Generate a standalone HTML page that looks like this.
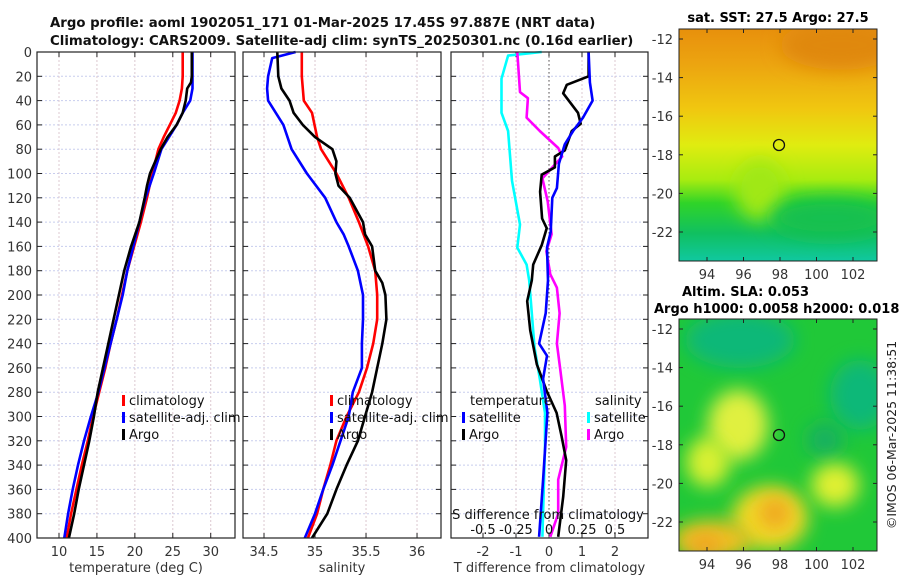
<!DOCTYPE html>
<html><head><meta charset="utf-8"><style>
body{margin:0;background:#fff;width:900px;height:580px;overflow:hidden}
svg{font-family:"DejaVu Sans","Liberation Sans",sans-serif}
</style></head><body>
<svg id="chart" width="900" height="580" xmlns="http://www.w3.org/2000/svg">
<defs>
<filter id="bl" x="-50%" y="-50%" width="200%" height="200%"><feGaussianBlur stdDeviation="9"/></filter>
<linearGradient id="sstg" x1="0" y1="0" x2="0" y2="1">
<stop offset="0" stop-color="#e8900c"/><stop offset="0.15" stop-color="#eca410"/><stop offset="0.35" stop-color="#f0c810"/>
<stop offset="0.5" stop-color="#e0ec10"/><stop offset="0.65" stop-color="#a8ec10"/><stop offset="0.75" stop-color="#30d428"/>
<stop offset="0.88" stop-color="#10c060"/><stop offset="1" stop-color="#10c8a0"/></linearGradient>
<clipPath id="c1"><rect x="679" y="29" width="198" height="232"/></clipPath>
<clipPath id="c2"><rect x="679" y="319" width="198" height="232"/></clipPath>
</defs>
<g font-weight="bold" font-size="13.3" fill="#111">
<text x="50" y="27">Argo profile: aoml 1902051_171 01-Mar-2025 17.45S 97.887E (NRT data)</text>
<text x="50" y="45">Climatology: CARS2009. Satellite-adj clim: synTS_20250301.nc (0.16d earlier)</text>
</g>
<g id="panels"></g>
<g>
<g clip-path="url(#c1)">
<rect x="679" y="29" width="198" height="232" fill="url(#sstg)"/>
<ellipse cx="760" cy="190" rx="25" ry="30" fill="#a0e818" filter="url(#bl)"/>
<ellipse cx="840" cy="45" rx="60" ry="25" fill="#e08808" filter="url(#bl)"/>
<ellipse cx="830" cy="218" rx="60" ry="20" fill="#18c050" filter="url(#bl)"/>
</g>
<rect x="679" y="29" width="198" height="232" fill="none" stroke="#222"/>
<circle cx="779" cy="145" r="5.5" fill="none" stroke="#111" stroke-width="1.3"/>
<text x="778" y="22" text-anchor="middle" font-weight="bold" font-size="13">sat. SST: 27.5 Argo: 27.5</text>
</g>
<g>
<g clip-path="url(#c2)">
<rect x="679" y="319" width="198" height="232" fill="#20c838"/>
<ellipse cx="740" cy="340" rx="55" ry="28" fill="#10b878" filter="url(#bl)"/>
<ellipse cx="860" cy="395" rx="30" ry="35" fill="#10b878" filter="url(#bl)"/>
<ellipse cx="825" cy="440" rx="18" ry="18" fill="#18b060" filter="url(#bl)"/>
<ellipse cx="738" cy="425" rx="30" ry="35" fill="#e0f040" filter="url(#bl)"/>
<ellipse cx="708" cy="462" rx="22" ry="25" fill="#d8f030" filter="url(#bl)"/>
<ellipse cx="835" cy="485" rx="24" ry="22" fill="#e0f030" filter="url(#bl)"/>
<ellipse cx="770" cy="518" rx="38" ry="32" fill="#f0d828" filter="url(#bl)"/>
<ellipse cx="775" cy="513" rx="16" ry="16" fill="#f0a820" filter="url(#bl)"/>
<ellipse cx="712" cy="540" rx="40" ry="20" fill="#f0c020" filter="url(#bl)"/>
<ellipse cx="705" cy="545" rx="16" ry="10" fill="#f0a020" filter="url(#bl)"/>
</g>
<rect x="679" y="319" width="198" height="232" fill="none" stroke="#222"/>
<circle cx="779" cy="435" r="5.5" fill="none" stroke="#111" stroke-width="1.3"/>
<text x="682" y="296" font-weight="bold" font-size="13">Altim. SLA: 0.053</text>
<text x="654" y="313" font-weight="bold" font-size="13">Argo h1000: 0.0058 h2000: 0.018</text>
</g>
<text transform="translate(896,435) rotate(-90)" text-anchor="middle" font-size="12.5" fill="#222">©IMOS 06-Mar-2025 11:38:51</text>
<g id="maps-axes"></g>
</svg>
<script>
// depth-level arrays
const depthT = [0,20,30,40,50,60,70,80,100,120,140,160,180,200,220,240,260,280,300,320,340,360,380,400];
const tempClim = [26.3,26.3,26.2,25.9,25.4,24.6,23.8,23.1,22.3,21.6,20.8,19.9,19.0,18.3,17.6,16.8,16.1,15.3,14.5,13.8,13.0,12.3,11.6,11.0];
const tempSat = [27.6,27.6,27.6,27.3,26.3,25.5,24.5,23.5,22.5,21.4,20.6,19.8,19.0,18.4,17.6,16.8,16.0,15.2,14.2,13.3,12.5,11.8,11.2,10.7];
const depthArgo = [0,20,25,30,40,50,60,70,80,90,100,110,120,140,160,180,200,220,240,260,280,300,320,340,360,380,400];
const tempArgo = [27.5,27.5,27.4,26.9,26.7,26.3,25.5,24.3,23.4,22.7,22.0,21.6,21.3,20.6,19.5,18.6,17.9,17.2,16.5,15.8,15.1,14.6,14.0,13.3,12.6,12.0,11.3];
const depthS = [0,20,40,50,70,80,100,120,140,160,180,200,220,240,260,280,300,320,340,360,380,400];
const salClim = [34.87,34.87,34.89,34.97,35.02,35.06,35.21,35.33,35.43,35.52,35.59,35.61,35.61,35.57,35.51,35.43,35.31,35.21,35.15,35.08,35.02,34.93];
const depthSsat = [0,5,20,30,40,60,80,100,120,140,150,160,180,200,220,240,260,280,300,320,340,360,380,400];
const salSat = [34.81,34.58,34.54,34.53,34.54,34.69,34.77,34.92,35.10,35.21,35.28,35.33,35.42,35.47,35.47,35.46,35.46,35.37,35.33,35.25,35.17,35.08,35.00,34.90];
const depthSargo = [0,20,30,40,50,60,70,80,90,100,110,120,140,150,160,180,190,200,220,240,260,280,300,320,340,360,380,400];
const salArgo = [34.63,34.64,34.67,34.75,34.79,34.88,35.00,35.17,35.21,35.20,35.23,35.34,35.47,35.49,35.56,35.59,35.66,35.69,35.70,35.66,35.61,35.56,35.49,35.42,35.31,35.21,35.12,34.97];
const depthDT = [0,25,40,54,65,76,92,112,120,148,161,188,215,240,250,269,297,352,399];
const dTsat = [1.2,1.24,1.32,1.03,0.73,0.48,0.3,0.24,0.1,0.05,-0.06,-0.03,-0.1,-0.3,-0.06,-0.18,-0.05,-0.18,-0.3];
const depthDTa = [0,20,27,34,50,59,65,81,86,95,101,115,137,145,159,175,188,205,229,257,279,297,316,336,366,399];
const dTargo = [1.2,1.2,0.54,0.43,0.88,0.96,0.69,0.48,0.18,0.18,-0.22,-0.27,-0.21,-0.07,-0.22,-0.48,-0.52,-0.66,-0.57,-0.37,-0.07,0.23,0.38,0.52,0.43,0.28];
const depthDS = [0,3,22,50,65,106,142,161,175,188,215,243,269,297,325,399];
const dSsat = [-0.055,-0.31,-0.36,-0.36,-0.31,-0.28,-0.22,-0.24,-0.17,-0.15,-0.13,-0.11,-0.07,-0.03,-0.03,-0.05];
const depthDSa = [0,33,38,54,65,79,86,104,123,150,164,183,194,215,240,257,291,325,352,380,399];
const dSargo = [-0.24,-0.22,-0.16,-0.17,-0.07,0.07,0.1,-0.05,-0.01,0.02,-0.02,0.01,0.06,0.08,0.06,0.08,0.12,0.13,0.07,0.07,0.01];
const depthTicks = [0,20,40,60,80,100,120,140,160,180,200,220,240,260,280,300,320,340,360,380,400];
const tempTicks = [10,15,20,25,30];
const salTicks = [34.5,35,35.5,36];
const dTTicks = [-2,-1,0,1,2];
const latTicks = [-12,-14,-16,-18,-20,-22];
const lonTicks = [94,96,98,100,102];

const NS='http://www.w3.org/2000/svg';
const Y0=52, Y1=538;
const yD = d => Y0 + d*(Y1-Y0)/400;
function mk(tag, attrs, parent){const e=document.createElementNS(NS,tag);for(const k in attrs)e.setAttribute(k,attrs[k]);parent.appendChild(e);return e;}
const root=document.getElementById('panels');

const panels=[
 {name:'temperature-panel',x0:37,x1:235,min:7.1,max:33.2,ticks:tempTicks,label:'temperature (deg C)',showY:true},
 {name:'salinity-panel',x0:243,x1:441,min:34.294,max:36.235,ticks:salTicks,label:'salinity',showY:false},
 {name:'difference-panel',x0:451,x1:648,min:-2.97,max:3.0,ticks:dTTicks,label:'T difference from climatology',showY:false}
];
panels.forEach(p=>{
  p.sx = v => p.x0 + (v-p.min)*(p.x1-p.x0)/(p.max-p.min);
  const g=mk('g',{},root);
  
  
  depthTicks.forEach(d=>{
    mk('line',{x1:p.x0,x2:p.x1,y1:yD(d),y2:yD(d),stroke:'#c8cdee','stroke-dasharray':'2,2','stroke-width':1},g);
    mk('line',{x1:p.x0,x2:p.x0+5,y1:yD(d),y2:yD(d),stroke:'#222'},g);
    mk('line',{x1:p.x1,x2:p.x1-5,y1:yD(d),y2:yD(d),stroke:'#222'},g);
    if(p.showY){const t=mk('text',{x:p.x0-5,y:yD(d)+5,'text-anchor':'end','font-size':13,fill:'#333'},g);t.textContent=d;}
  });
  p.ticks.forEach(v=>{
    const x=p.sx(v);
    mk('line',{x1:x,x2:x,y1:Y0,y2:Y1,stroke:'#dcc8d0','stroke-dasharray':'2,2'},g);
    mk('line',{x1:x,x2:x,y1:Y1,y2:Y1-5,stroke:'#222'},g);
    mk('line',{x1:x,x2:x,y1:Y0,y2:Y0+5,stroke:'#222'},g);
    const t=mk('text',{x:x,y:556,'text-anchor':'middle','font-size':13,fill:'#333'},g);t.textContent=v;
  });
  const lab=mk('text',{x:(p.x0+p.x1)/2,y:572,'text-anchor':'middle','font-size':13,fill:'#333'},g);lab.textContent=p.label;
});
const pD=panels[2];
mk('line',{x1:pD.sx(0),x2:pD.sx(0),y1:Y0,y2:Y1,stroke:'#555','stroke-dasharray':'1.5,2.5'},root);

function series(p, xs, ds, color, name, scale){
  const pts=xs.map((v,i)=>p.sx(v*(scale||1)).toFixed(1)+','+yD(ds[i]).toFixed(1)).join(' ');
  const e=mk('polyline',{points:pts,fill:'none',stroke:color,'stroke-width':2.6,'stroke-linejoin':'round'},root);
  
  
}
series(panels[0],tempClim,depthT,'#f00','temp-climatology-line');
series(panels[0],tempSat,depthT,'#00f','temp-satellite-line');
series(panels[0],tempArgo,depthArgo,'#000','temp-argo-line');
series(panels[1],salClim,depthS,'#f00','sal-climatology-line');
series(panels[1],salSat,depthSsat,'#00f','sal-satellite-line');
series(panels[1],salArgo,depthSargo,'#000','sal-argo-line');
series(pD,dSsat,depthDS,'#0ff','sdiff-satellite-line',4);
series(pD,dSargo,depthDSa,'#f0f','sdiff-argo-line',4);
series(pD,dTargo,depthDTa,'#000','tdiff-argo-line');
series(pD,dTsat,depthDT,'#00f','tdiff-satellite-line');

panels.forEach(p=>mk('rect',{x:p.x0,y:Y0,width:p.x1-p.x0,height:Y1-Y0,fill:'none',stroke:'#222','stroke-width':1.2},root));

function legend(x,y,items,name){
  const g=mk('g',{},root);
  
  
  items.forEach((it,i)=>{
    if(it[1]) mk('rect',{x:x,y:y+i*17-10,width:3,height:11,fill:it[1]},g);
    const t=mk('text',{x:x+(it[1]?7:0),y:y+i*17,'font-size':13,fill:'#111'},g);t.textContent=it[0];
  });
}
legend(122,405,[['climatology','#f00'],['satellite-adj. clim','#00f'],['Argo','#000']],'temp-legend');
legend(330,405,[['climatology','#f00'],['satellite-adj. clim','#00f'],['Argo','#000']],'sal-legend');
legend(470,405,[['temperature',null]],'tdiff-legend-title');
legend(462,422,[['satellite','#00f'],['Argo','#000']],'tdiff-legend');
legend(595,405,[['salinity',null]],'sdiff-legend-title');
legend(587,422,[['satellite','#0ff'],['Argo','#f0f']],'sdiff-legend');
const st=mk('text',{x:548,y:519,'text-anchor':'middle','font-size':13,fill:'#111'},root);st.textContent='S difference from climatology';


const sTicks=['-0.5','-0.25','0','0.25','0.5'];
sTicks.forEach((s,i)=>{const t=mk('text',{x:pD.sx(dTTicks[i]),y:534,'text-anchor':'middle','font-size':13,fill:'#111'},root);t.textContent=s;});

const ma=document.getElementById('maps-axes');
[[29,261],[319,551]].forEach(([t,b],mi)=>{
  const g=mk('g',{},ma);
  
  
  const yl = la => t + 10 + (-12-la)*(193/10);
  const xl = lo => 707 + (lo-94)*(146/8);
  latTicks.forEach(la=>{const y=yl(la);
    mk('line',{x1:679,x2:683,y1:y,y2:y,stroke:'#222'},g);mk('line',{x1:877,x2:873,y1:y,y2:y,stroke:'#222'},g);
    const tx=mk('text',{x:673,y:y+5,'text-anchor':'end','font-size':13,fill:'#333'},g);tx.textContent=la;});
  lonTicks.forEach(lo=>{const x=xl(lo);
    mk('line',{x1:x,x2:x,y1:b,y2:b-4,stroke:'#222'},g);mk('line',{x1:x,x2:x,y1:t,y2:t+4,stroke:'#222'},g);
    const tx=mk('text',{x:x,y:b+18,'text-anchor':'middle','font-size':13,fill:'#333'},g);tx.textContent=lo;});
});
</script>
</body></html>
